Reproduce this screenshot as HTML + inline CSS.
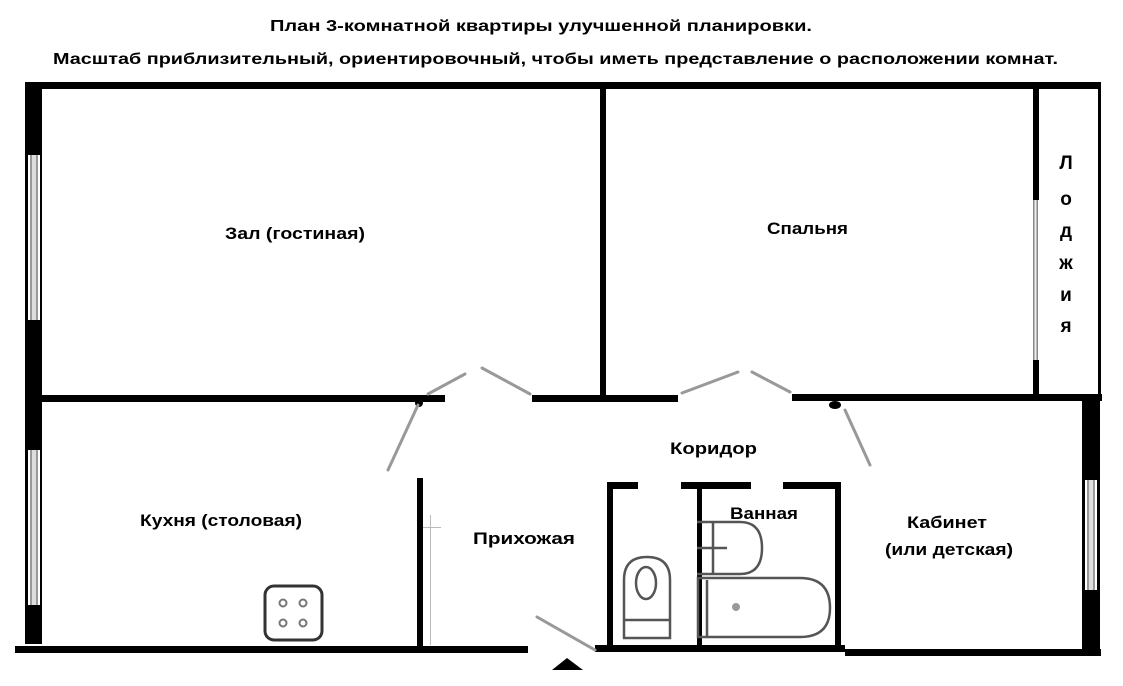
<!DOCTYPE html>
<html><head><meta charset="utf-8"><style>html,body{margin:0;padding:0;background:#fff}svg{display:block}text{font-family:"Liberation Sans","DejaVu Sans",sans-serif;font-weight:bold;fill:#000}</style></head>
<body>
<svg width="1123" height="686" viewBox="0 0 1123 686" xmlns="http://www.w3.org/2000/svg">
<rect width="1123" height="686" fill="#fff"/>
<text x="270" y="31" font-size="16" textLength="542" lengthAdjust="spacingAndGlyphs">План 3-комнатной квартиры улучшенной планировки.</text>
<text x="53" y="64" font-size="16" textLength="1005" lengthAdjust="spacingAndGlyphs">Масштаб приблизительный, ориентировочный, чтобы иметь представление о расположении комнат.</text>
<g fill="#000">
<rect x="25" y="82" width="1076" height="7"/>
<rect x="25" y="82" width="17" height="562"/>
<rect x="28" y="155" width="12" height="165" fill="#fff"/>
<rect x="30" y="155" width="8" height="165" fill="#999"/>
<rect x="32" y="155" width="4" height="165" fill="#ddd"/>
<rect x="28" y="450" width="12" height="155" fill="#fff"/>
<rect x="30" y="450" width="8" height="155" fill="#999"/>
<rect x="32" y="450" width="4" height="155" fill="#ddd"/>
<rect x="600" y="85" width="6" height="313"/>
<rect x="1033" y="85" width="6" height="115"/>
<rect x="1033" y="200" width="5" height="160" fill="#888"/>
<rect x="1034.5" y="200" width="2" height="160" fill="#eee"/>
<rect x="1033" y="360" width="6" height="38"/>
<rect x="1098" y="82" width="3" height="316"/>
<rect x="42" y="395" width="403" height="7"/>
<circle cx="419" cy="403" r="4"/>
<rect x="532" y="395" width="146" height="7"/>
<rect x="792" y="394" width="310" height="7"/>
<ellipse cx="835" cy="405" rx="6" ry="4"/>
<rect x="417" y="478" width="6" height="172"/>
<rect x="430" y="515" width="1" height="130" fill="#bbb"/>
<rect x="423" y="527" width="18" height="1" fill="#bbb"/>
<rect x="15" y="646" width="513" height="7"/>
<rect x="595" y="645" width="250" height="7"/>
<rect x="845" y="649" width="256" height="7"/>
<rect x="1082" y="398" width="18" height="258"/>
<rect x="1085" y="480" width="12" height="110" fill="#fff"/>
<rect x="1087" y="480" width="8" height="110" fill="#999"/>
<rect x="1089" y="480" width="4" height="110" fill="#ddd"/>
<rect x="607" y="482" width="6" height="166"/>
<rect x="607" y="482" width="31" height="7"/>
<rect x="681" y="482" width="70" height="7"/>
<rect x="783" y="482" width="57" height="7"/>
<rect x="697" y="484" width="5" height="162"/>
<rect x="835" y="482" width="6" height="166"/>
<polygon points="567,658 552,670 583,670"/>
</g>
<g stroke="#999" stroke-width="3" fill="none" stroke-linecap="round">
<line x1="388" y1="470" x2="418" y2="405"/>
<line x1="428" y1="394" x2="465" y2="374"/>
<line x1="482" y1="368" x2="530" y2="394"/>
<line x1="682" y1="393" x2="738" y2="372"/>
<line x1="752" y1="372" x2="790" y2="392"/>
<line x1="845" y1="410" x2="870" y2="465"/>
<line x1="537" y1="617" x2="595" y2="650"/>
</g>
<rect x="265" y="586" width="57" height="54" rx="9" fill="#fff" stroke="#333" stroke-width="3"/>
<g fill="none" stroke="#777" stroke-width="2"><circle cx="283" cy="603" r="3.5"/><circle cx="303" cy="603" r="3.5"/><circle cx="283" cy="623" r="3.5"/><circle cx="303" cy="623" r="3.5"/></g>
<g fill="none" stroke="#555" stroke-width="2.5">
<path d="M624,638 V580 Q624,557 647,557 Q670,557 670,580 V638 Z"/>
<ellipse cx="646" cy="583" rx="10" ry="16"/>
<line x1="624" y1="620" x2="670" y2="620"/>
<path d="M697,522 H740 Q762,522 762,548 Q762,574 740,574 H697"/>
<line x1="713" y1="522" x2="713" y2="574"/>
<line x1="697" y1="548" x2="727" y2="548"/>
<path d="M698,578 H800 Q830,578 830,608 Q830,637 800,637 H698 Z"/>
<line x1="707" y1="580" x2="707" y2="636"/>
</g>
<circle cx="736" cy="607" r="4" fill="#999"/>
<g font-size="17" lengthAdjust="spacingAndGlyphs">
<text x="225" y="239" textLength="140" lengthAdjust="spacingAndGlyphs">Зал (гостиная)</text>
<text x="767" y="234" textLength="81" lengthAdjust="spacingAndGlyphs">Спальня</text>
<text x="140" y="526" textLength="162" lengthAdjust="spacingAndGlyphs">Кухня (столовая)</text>
<text x="473" y="544" textLength="102" lengthAdjust="spacingAndGlyphs">Прихожая</text>
<text x="670" y="454" textLength="87" lengthAdjust="spacingAndGlyphs">Коридор</text>
<text x="730" y="519" textLength="68" lengthAdjust="spacingAndGlyphs">Ванная</text>
<text x="907" y="528" textLength="80" lengthAdjust="spacingAndGlyphs">Кабинет</text>
<text x="885" y="555" textLength="128" lengthAdjust="spacingAndGlyphs">(или детская)</text>
</g>
<g font-size="19" text-anchor="middle">
<text x="1066" y="169">Л</text>
<text x="1066" y="205">о</text>
<text x="1066" y="237">д</text>
<text x="1066" y="269">ж</text>
<text x="1066" y="301">и</text>
<text x="1066" y="332">я</text>
</g>
</svg>
</body></html>
